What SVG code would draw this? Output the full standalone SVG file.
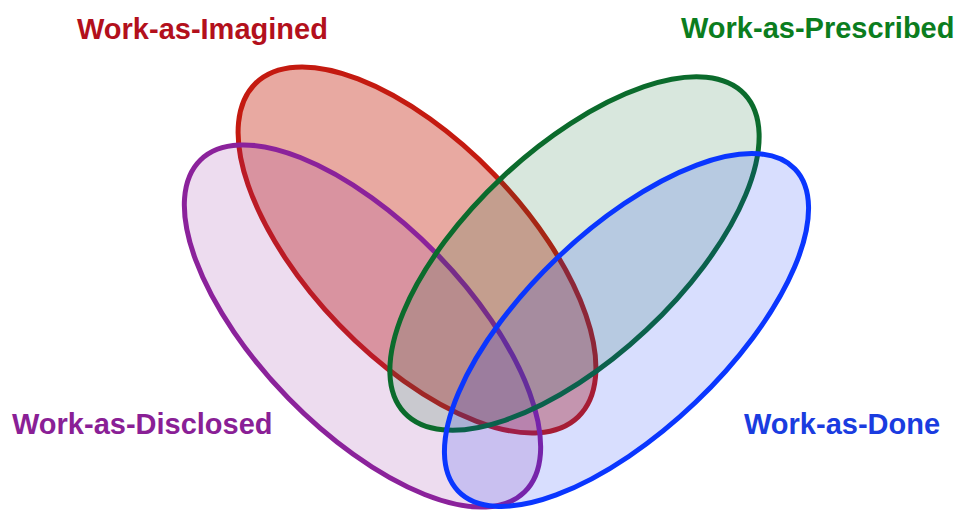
<svg xmlns="http://www.w3.org/2000/svg" width="957" height="511" viewBox="0 0 957 511">
<style>
.lbl{font-family:"Liberation Sans",Arial,sans-serif;font-weight:700;font-size:29px}
.e{stroke-width:5}
</style>
<rect width="957" height="511" fill="#ffffff"/>
<g id="work-as-imagined">
<ellipse class="e" cx="417" cy="250" rx="232" ry="108" transform="rotate(46 417 250)" fill="#c8321e" fill-opacity="0.42" stroke="#c41a10"/>
</g>
<g id="work-as-disclosed">
<ellipse class="e" cx="362.5" cy="326" rx="232" ry="103.5" transform="rotate(45.7 362.5 326)" fill="#8e249b" fill-opacity="0.16" stroke="#8b229b"/>
</g>
<g id="work-as-prescribed">
<ellipse class="e" cx="574.5" cy="253.5" rx="233" ry="105" transform="rotate(-43.1 574.5 253.5)" fill="#0b6b2c" fill-opacity="0.16" stroke="#0b6b2c"/>
</g>
<g id="work-as-done">
<ellipse class="e" cx="626.5" cy="330" rx="233" ry="100" transform="rotate(-43.7 626.5 330)" fill="#0f32fa" fill-opacity="0.16" stroke="#0a36ff"/>
</g>
<g id="labels">
<text class="lbl" x="77" y="39" fill="#b3101c">Work-as-Imagined</text>
<text class="lbl" x="681" y="38" fill="#0b7d1e" font-size="28.5">Work-as-Prescribed</text>
<text class="lbl" x="12" y="434" fill="#8a1f96" font-size="27.8">Work-as-Disclosed</text>
<text class="lbl" x="744" y="434" fill="#1a3ce0">Work-as-Done</text>
</g>
</svg>
